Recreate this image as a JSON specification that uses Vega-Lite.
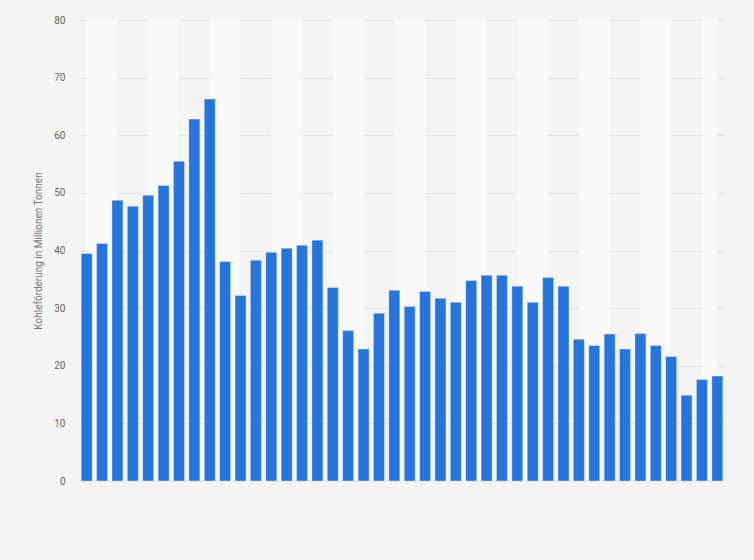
{
  "$schema": "https://vega.github.io/schema/vega-lite/v6.json",
  "width": 646,
  "height": 461,
  "autosize": {"type": "none"},
  "padding": {"left": 79, "top": 20, "right": 29, "bottom": 79},
  "background": "#f4f4f4",
  "config": {
    "view": {"stroke": null, "fill": "#f4f4f4"},
    "font": "Roboto"
  },
  "datasets": {
    "bars": [
      {"Nr": 1, "Wert": 39.5}, {"Nr": 2, "Wert": 41.2}, {"Nr": 3, "Wert": 48.7},
      {"Nr": 4, "Wert": 47.7}, {"Nr": 5, "Wert": 49.6}, {"Nr": 6, "Wert": 51.3},
      {"Nr": 7, "Wert": 55.5}, {"Nr": 8, "Wert": 62.8}, {"Nr": 9, "Wert": 66.3},
      {"Nr": 10, "Wert": 38.1}, {"Nr": 11, "Wert": 32.2}, {"Nr": 12, "Wert": 38.3},
      {"Nr": 13, "Wert": 39.7}, {"Nr": 14, "Wert": 40.4}, {"Nr": 15, "Wert": 40.9},
      {"Nr": 16, "Wert": 41.8}, {"Nr": 17, "Wert": 33.6}, {"Nr": 18, "Wert": 26.1},
      {"Nr": 19, "Wert": 22.9}, {"Nr": 20, "Wert": 29.1}, {"Nr": 21, "Wert": 33.1},
      {"Nr": 22, "Wert": 30.3}, {"Nr": 23, "Wert": 32.9}, {"Nr": 24, "Wert": 31.7},
      {"Nr": 25, "Wert": 31.0}, {"Nr": 26, "Wert": 34.8}, {"Nr": 27, "Wert": 35.7},
      {"Nr": 28, "Wert": 35.7}, {"Nr": 29, "Wert": 33.8}, {"Nr": 30, "Wert": 31.0},
      {"Nr": 31, "Wert": 35.3}, {"Nr": 32, "Wert": 33.8}, {"Nr": 33, "Wert": 24.6},
      {"Nr": 34, "Wert": 23.5}, {"Nr": 35, "Wert": 25.5}, {"Nr": 36, "Wert": 22.9},
      {"Nr": 37, "Wert": 25.6}, {"Nr": 38, "Wert": 23.5}, {"Nr": 39, "Wert": 21.6},
      {"Nr": 40, "Wert": 14.9}, {"Nr": 41, "Wert": 17.6}, {"Nr": 42, "Wert": 18.2}
    ],
    "bands": [
      {"von": 1, "bis": 3}, {"von": 5, "bis": 7}, {"von": 9, "bis": 11},
      {"von": 13, "bis": 15}, {"von": 17, "bis": 19}, {"von": 21, "bis": 23},
      {"von": 25, "bis": 27}, {"von": 29, "bis": 31}, {"von": 33, "bis": 35},
      {"von": 37, "bis": 39}, {"von": 41, "bis": 42}
    ]
  },
  "layer": [
    {
      "data": {"name": "bands"},
      "mark": {"type": "rect", "color": "#f9f9f9"},
      "encoding": {
        "x": {"field": "von", "type": "quantitative", "scale": {"domain": [0.5, 42.5], "nice": false, "zero": false, "padding": 0},
          "axis": {"title": null, "labels": false, "ticks": false, "grid": false, "domain": false}},
        "x2": {"field": "bis"}
      }
    },
    {
      "data": {"name": "bars"},
      "mark": {"type": "bar", "width": 11, "color": "#2775db", "stroke": "#ffffff", "strokeOpacity": 0.35, "strokeWidth": 1},
      "encoding": {
        "x": {"field": "Nr", "type": "quantitative", "scale": {"domain": [0.5, 42.5], "nice": false, "zero": false, "padding": 0},
          "axis": {"title": null, "labels": false, "ticks": false, "grid": false, "domain": false}},
        "y": {"field": "Wert", "type": "quantitative", "scale": {"domain": [0, 80], "nice": false},
          "axis": {"title": "Kohleförderung in Millionen Tonnen", "values": [0, 10, 20, 30, 40, 50, 60, 70, 80],
            "domain": false, "ticks": false, "labelPadding": 14, "labelFontSize": 10, "labelColor": "#666666",
            "titleFontSize": 10, "titleFontWeight": "normal", "titleColor": "#777777", "titlePadding": 10,
            "gridColor": "#d4d4d4", "gridDash": [1, 1], "gridWidth": 1}}
      }
    },
    {
      "mark": {"type": "rule", "color": "#333333", "strokeWidth": 1.2},
      "encoding": {"y": {"datum": 0}}
    }
  ]
}
